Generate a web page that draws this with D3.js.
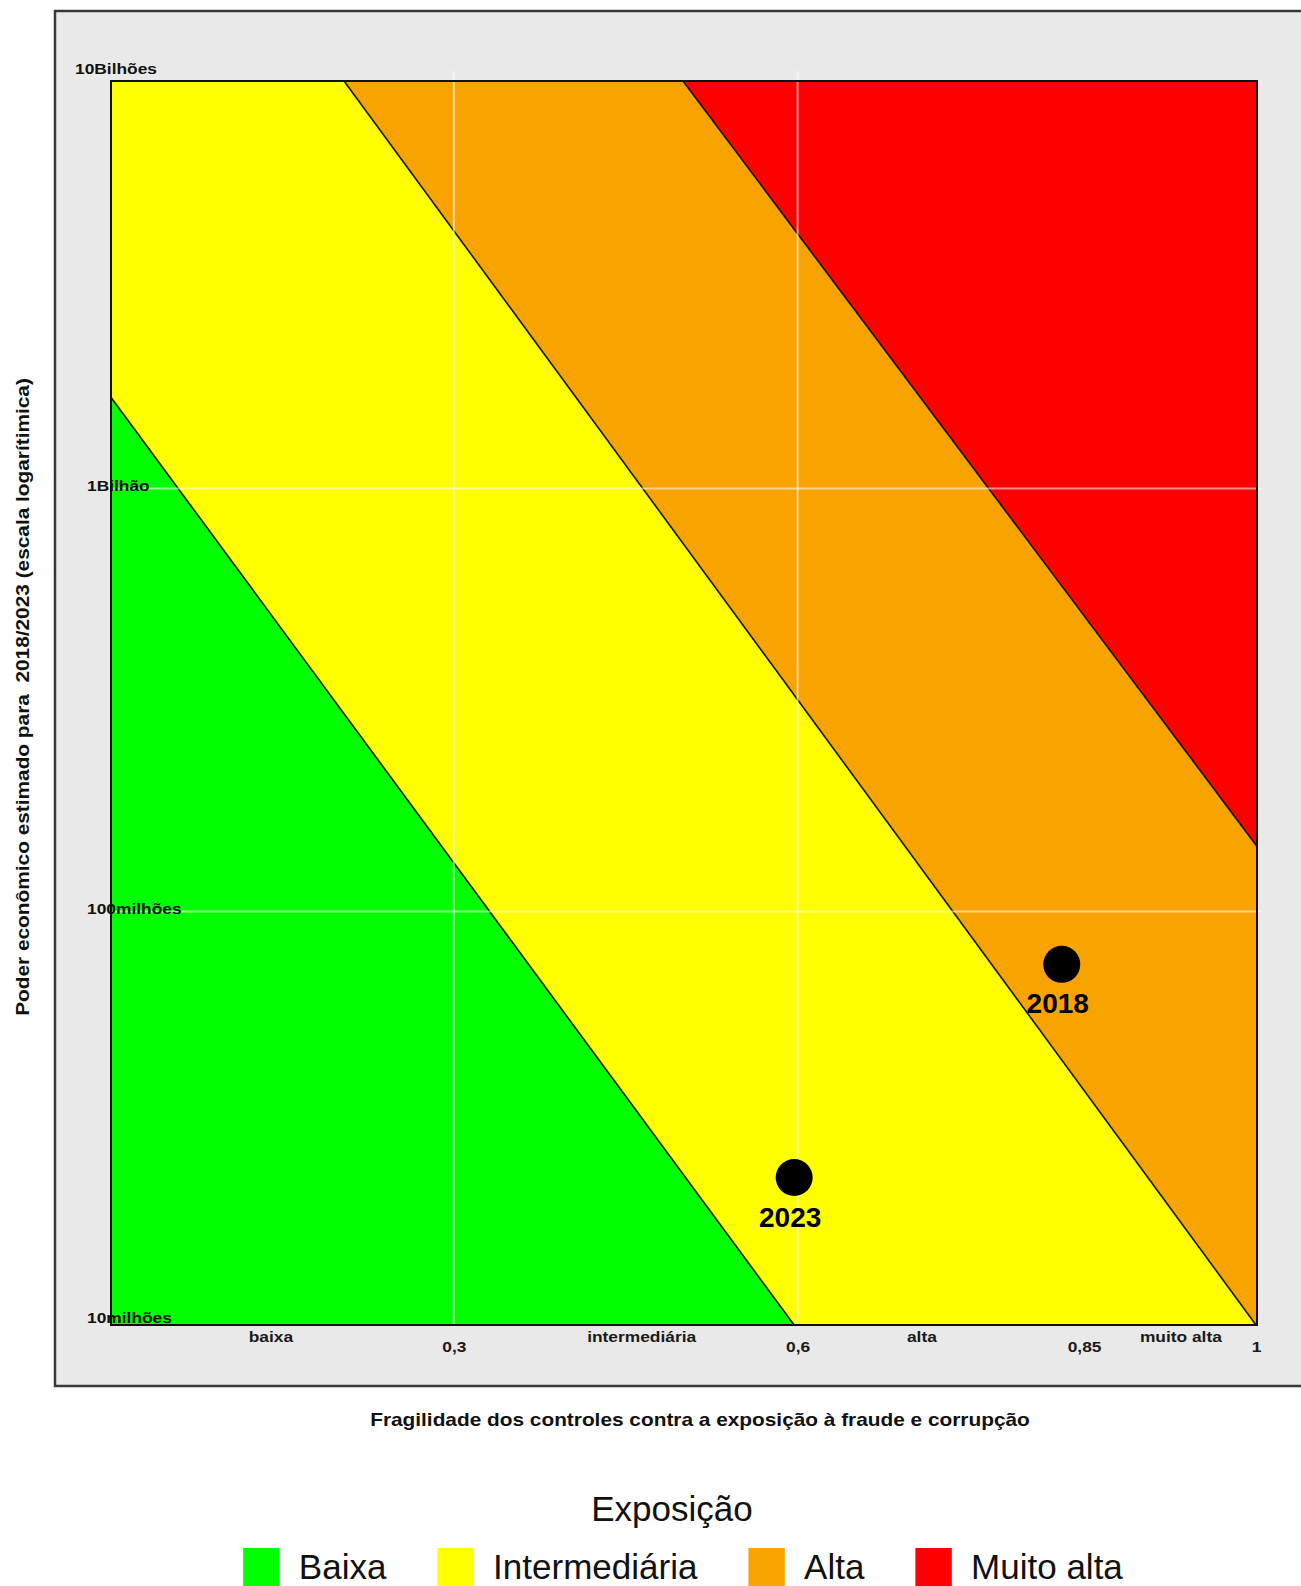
<!DOCTYPE html>
<html><head><meta charset="utf-8">
<script src="https://cdn.jsdelivr.net/npm/d3@7"></script>
<style>
body{margin:0;background:#fff}
svg{display:block}
text{font-family:"Liberation Sans",Arial,Helvetica,sans-serif}
</style>
</head><body>
<svg id="chart" width="1301" height="1586"></svg>
<script>
// ---------------- data ----------------
const zoneNames = ["Baixa", "Intermediária", "Alta", "Muito alta"];
const zoneColors = ["#00ff00", "#ffff00", "#f9a300", "#ff0000"];
// zone boundary lines (fragility x, economic power value) read at their ends
const boundaryStartX = [0, 0.2042, 0.5];
const boundaryStartV = [1.655e9, 9.19e9, 9.19e9];
const boundaryEndX = [0.597, 1, 1];
const boundaryEndV = [1.053e7, 1.053e7, 1.436e8];

const years = ["2018", "2023"];
const fragility = [0.8305, 0.597];
const power = [7.5e7, 2.35e7];

const xTicks = [0.3, 0.6, 0.85, 1];
const xTickLabels = ["0,3", "0,6", "0,85", "1"];
const xGrid = [0.3, 0.6];
const xCategoryPos = [0.14, 0.4635, 0.708, 0.934];
const xCategoryLabels = ["baixa", "intermediária", "alta", "muito alta"];
const yTicks = [1e7, 1e8, 1e9, 1e10];
const yTickLabels = ["10milhões", "100milhões", "1Bilhão", "10Bilhões"];
const yGrid = [1e8, 1e9];
const yDomain = [1.053e7, 9.19e9];

const xTitle = "Fragilidade dos controles contra a exposição à fraude e corrupção";
const yTitle = "Poder econômico estimado para  2018/2023 (escala logarítimica)";
const legendTitle = "Exposição";

// ---------------- layout ----------------
const P = {left: 111, right: 1257, top: 81, bottom: 1325};
const svg = d3.select("#chart");
const x = d3.scaleLinear().domain([0, 1]).range([110, 1256]);
const y = d3.scaleLog().domain(yDomain).range([P.bottom, P.top]);

function stretch(sel, k) {
  sel.each(function () {
    const L = this.getComputedTextLength();
    this.setAttribute("textLength", L * k);
    this.setAttribute("lengthAdjust", "spacingAndGlyphs");
  });
}

// outer gray panel
svg.append("rect")
  .attr("x", 55).attr("y", 11)
  .attr("width", 1400).attr("height", 1386 - 11)
  .attr("fill", "#e9e9e9").attr("stroke", "#383838").attr("stroke-width", 2.5);

// clip
svg.append("defs").append("clipPath").attr("id", "plotclip")
  .append("rect").attr("x", P.left).attr("y", P.top)
  .attr("width", P.right - P.left).attr("height", P.bottom - P.top);

const plot = svg.append("g").attr("clip-path", "url(#plotclip)");

// boundary lines in pixel space
const lines = boundaryStartX.map((_, i) => {
  const x1 = x(boundaryStartX[i]), y1 = y(boundaryStartV[i]);
  const x2 = x(boundaryEndX[i]), y2 = y(boundaryEndV[i]);
  const m = (y2 - y1) / (x2 - x1);
  return px => y1 + (px - x1) * m;
});
const L = P.left - 20, R = P.right + 20;
const zonePolys = zoneNames.map((name, k) => {
  const upper = k < lines.length ? [[L, lines[k](L)], [R, lines[k](R)]] : [[L, P.top - 2000], [R, P.top - 2000]];
  const lower = k > 0 ? [[R, lines[k - 1](R)], [L, lines[k - 1](L)]] : [[R, P.bottom + 2000], [L, P.bottom + 2000]];
  return {name, color: zoneColors[k], pts: upper.concat(lower)};
});

plot.selectAll("polygon.zone").data(zonePolys).join("polygon")
  .attr("class", "zone")
  .attr("points", d => d.pts.map(p => p.join(",")).join(" "))
  .attr("fill", d => d.color);

plot.selectAll("line.boundary").data(lines).join("line")
  .attr("class", "boundary")
  .attr("x1", L).attr("y1", f => f(L))
  .attr("x2", R).attr("y2", f => f(R))
  .attr("stroke", "#111").attr("stroke-width", 1.6);

// grid lines
svg.append("g").selectAll("line").data(xGrid).join("line")
  .attr("x1", d => x(d)).attr("x2", d => x(d))
  .attr("y1", P.top - 10).attr("y2", P.bottom)
  .attr("stroke", "#fff").attr("stroke-opacity", 0.6).attr("stroke-width", 2);
svg.append("g").selectAll("line").data(yGrid).join("line")
  .attr("x1", P.left).attr("x2", P.right + 4)
  .attr("y1", d => y(d)).attr("y2", d => y(d))
  .attr("stroke", "#fff").attr("stroke-opacity", 0.55).attr("stroke-width", 2);

// plot border
svg.append("rect")
  .attr("x", P.left).attr("y", P.top)
  .attr("width", P.right - P.left).attr("height", P.bottom - P.top)
  .attr("fill", "none").attr("stroke", "#111").attr("stroke-width", 2);

// points
const pts = years.map((yr, i) => ({yr, fx: fragility[i], pv: power[i]}));
svg.append("g").selectAll("circle").data(pts).join("circle")
  .attr("cx", d => x(d.fx)).attr("cy", d => y(d.pv)).attr("r", 18.5)
  .attr("fill", "#000");
svg.append("g").selectAll("text").data(pts).join("text")
  .attr("x", d => x(d.fx) - 4).attr("y", d => y(d.pv) + 49)
  .attr("text-anchor", "middle")
  .attr("font-size", 28).attr("font-weight", "bold").attr("fill", "#000")
  .text(d => d.yr);

// x axis: numeric ticks
const xAxis = svg.append("g").attr("transform", `translate(0,${P.bottom})`)
  .call(d3.axisBottom(x).tickValues(xTicks).tickSize(0).tickFormat((d, i) => xTickLabels[i]));
xAxis.select(".domain").remove();
xAxis.selectAll("text")
  .attr("y", 27).attr("dy", 0)
  .attr("font-size", 15.5).attr("font-weight", "bold").attr("fill", "#1a1a1a")
  .attr("font-family", "'Liberation Sans', Arial, sans-serif");
stretch(xAxis.selectAll("text"), 1.12);

// x axis: category labels
const xCat = svg.append("g").attr("transform", `translate(0,${P.bottom})`)
  .call(d3.axisBottom(x).tickValues(xCategoryPos).tickSize(0).tickFormat((d, i) => xCategoryLabels[i]));
xCat.select(".domain").remove();
xCat.selectAll("text")
  .attr("y", 17).attr("dy", 0)
  .attr("font-size", 15.5).attr("font-weight", "bold").attr("fill", "#1a1a1a")
  .attr("font-family", "'Liberation Sans', Arial, sans-serif");
stretch(xCat.selectAll("text"), 1.12);

// y axis labels (drawn over the plot edge, kept within the panel)
const yAxis = svg.append("g")
  .call(d3.axisLeft(y).tickValues(yTicks).tickSize(0).tickFormat((d, i) => yTickLabels[i]));
yAxis.select(".domain").remove();
yAxis.selectAll(".tick").attr("transform", d => `translate(0,${Math.max(P.top - 12.5, Math.min(P.bottom - 8, y(d) - 3))})`);
yAxis.selectAll("text")
  .attr("text-anchor", "start")
  .attr("x", d => d === d3.max(yTicks) ? 75 : 87)
  .attr("dy", "0.36em")
  .attr("font-size", 15.5).attr("font-weight", "bold").attr("fill", "#111")
  .attr("font-family", "'Liberation Sans', Arial, sans-serif");
stretch(yAxis.selectAll("text"), 1.12);

// axis titles
const xt = svg.append("text")
  .attr("x", 700).attr("y", 1425.5).attr("text-anchor", "middle")
  .attr("font-size", 18.6).attr("font-weight", "bold").attr("fill", "#111")
  .style("white-space", "pre")
  .text(xTitle);
stretch(xt, 1.12);
const yt = svg.append("text")
  .attr("transform", "translate(28.5,697) rotate(-90)")
  .attr("text-anchor", "middle")
  .attr("font-size", 18.6).attr("font-weight", "bold").attr("fill", "#111")
  .style("white-space", "pre")
  .text(yTitle);
stretch(yt, 1.12);

// legend
svg.append("text")
  .attr("x", 672).attr("y", 1521).attr("text-anchor", "middle")
  .attr("font-size", 35).attr("fill", "#111")
  .text(legendTitle);

const keyW = 36.4, keyGap = 19.3, itemGap = 51;
const legendG = svg.append("g");
const items = legendG.selectAll("g").data(zoneNames).join("g");
items.append("rect")
  .attr("width", keyW).attr("height", 40).attr("y", 1548)
  .attr("fill", (d, i) => zoneColors[i]);
items.append("text")
  .attr("y", 1579).attr("font-size", 35).attr("fill", "#111")
  .text(d => d);
const widths = [];
items.select("text").each(function () { widths.push(this.getComputedTextLength()); });
const total = d3.sum(widths) + zoneNames.length * (keyW + keyGap) + (zoneNames.length - 1) * itemGap;
let cx = 683 - total / 2;
items.each(function (d, i) {
  d3.select(this).select("rect").attr("x", cx);
  d3.select(this).select("text").attr("x", cx + keyW + keyGap);
  cx += keyW + keyGap + widths[i] + itemGap;
});
</script>
</body></html>
